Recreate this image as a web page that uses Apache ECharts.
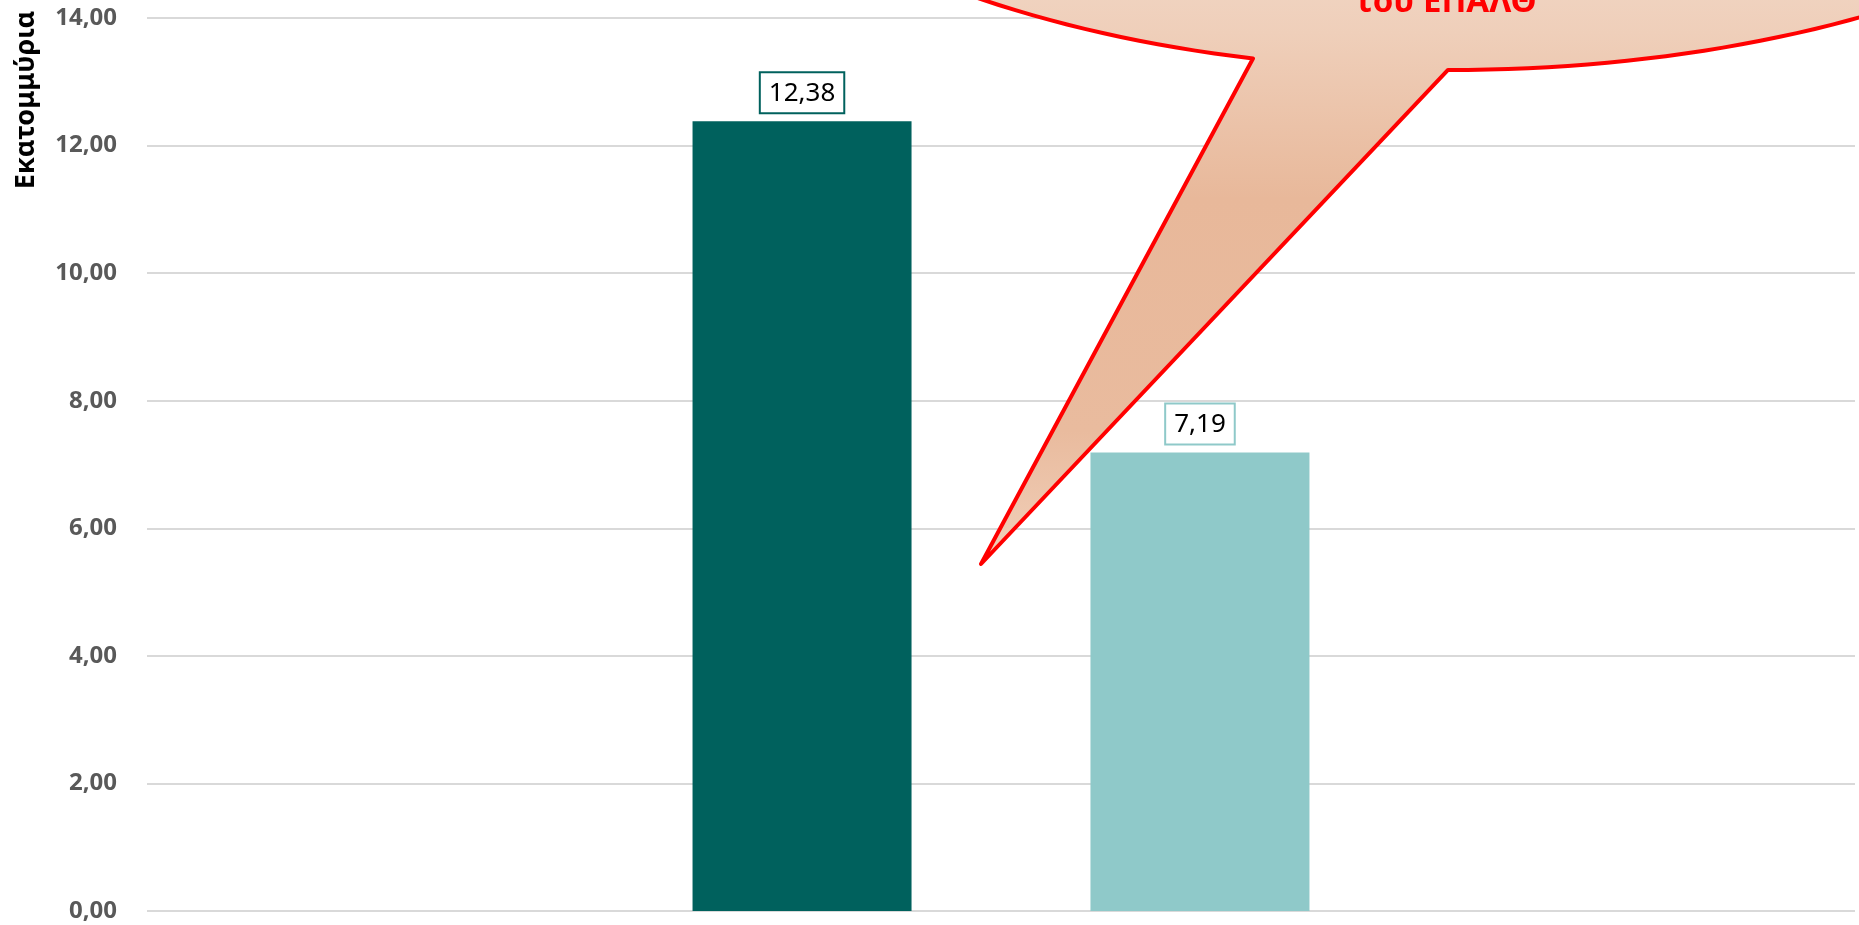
<!DOCTYPE html>
<html>
<head>
<meta charset="utf-8">
<script src="https://cdn.jsdelivr.net/npm/echarts@6/dist/echarts.min.js"></script>
<style>
  html, body { margin: 0; padding: 0; background: #ffffff; }
  #chart { width: 1859px; height: 925px; }
</style>
</head>
<body>
<div id="chart"></div>
<script>
// Chart data
const categories = [''];
const seriesNames = ['Σειρά1', 'Σειρά2'];
const seriesValues = [[12.38], [7.19]];
const seriesColors = ['#00615d', '#8fc9c9'];
const yTicks = { min: 0, max: 14, interval: 2 };
const axisTitle = 'Εκατομμύρια';
const calloutText = 'του ΕΠΑΛΘ';

const fmt = v => v.toFixed(2).replace('.', ',');

const chart = echarts.init(document.getElementById('chart'), null, { renderer: 'canvas' });

// Speech-bubble callout: ellipse body with a wedge pointing down between the bars
const ell = { cx: 1450, cy: -300, rx: 797, ry: 370 };
const tip = [981, 564];
const baseX = [1253, 1448];
const angleAt = x => {
  const u = (x - ell.cx) / ell.rx;
  return Math.atan2(Math.sqrt(1 - u * u), u); // lower half of the ellipse (screen y down)
};
const t1 = angleAt(baseX[0]);
const t2 = angleAt(baseX[1]) + Math.PI * 2;
const bubblePoints = [tip];
const steps = 240;
for (let i = 0; i <= steps; i++) {
  const t = t1 + (t2 - t1) * i / steps;
  bubblePoints.push([ell.cx + ell.rx * Math.cos(t), ell.cy + ell.ry * Math.sin(t)]);
}

const bubbleFill = new echarts.graphic.LinearGradient(0, -100, 0, 564, [
  { offset: 0, color: '#f3dccd' },
  { offset: 0.2, color: '#efcfba' },
  { offset: 0.45, color: '#e8b89a' },
  { offset: 0.8, color: '#e9bb9e' },
  { offset: 1, color: '#f1d0ba' }
], true);

const option = {
  backgroundColor: '#ffffff',
  animation: false,
  grid: { left: 147, right: 4, top: 18, bottom: 14, containLabel: false },
  xAxis: {
    type: 'category',
    data: categories,
    axisLine: { show: false },
    axisTick: { show: false },
    axisLabel: { show: false }
  },
  yAxis: {
    type: 'value',
    min: yTicks.min,
    max: yTicks.max,
    interval: yTicks.interval,
    axisLine: { show: false },
    axisTick: { show: false },
    axisLabel: {
      formatter: v => fmt(v),
      color: '#595959',
      fontFamily: 'Noto Sans',
      fontWeight: 'bold',
      fontSize: 24,
      margin: 30
    },
    splitLine: { lineStyle: { color: '#d9d9d9', width: 2 } }
  },
  series: seriesValues.map((vals, i) => ({
    name: seriesNames[i],
    type: 'bar',
    data: vals,
    barWidth: 219,
    barGap: '81.7%',
    itemStyle: { color: seriesColors[i] },
    label: {
      show: true,
      position: 'top',
      distance: 9,
      formatter: p => fmt(p.value),
      color: '#000000',
      fontFamily: 'Noto Sans',
      fontSize: 26,
      backgroundColor: '#ffffff',
      borderColor: seriesColors[i],
      borderWidth: 2,
      padding: [7, 8, 6, 8]
    }
  })),
  graphic: [
    {
      type: 'text',
      x: 26,
      y: 100,
      rotation: Math.PI / 2,
      style: {
        text: axisTitle,
        fill: '#000000',
        font: 'bold 27px "Noto Sans"',
        align: 'center',
        verticalAlign: 'middle'
      },
      z: 10
    },
    {
      type: 'polygon',
      shape: { points: bubblePoints },
      style: {
        fill: bubbleFill,
        stroke: '#ff0000',
        lineWidth: 4,
        lineJoin: 'round'
      },
      z: 20
    },
    {
      type: 'text',
      x: 1446,
      y: 3,
      style: {
        text: calloutText,
        fill: '#ff0000',
        font: 'bold 33px "Noto Sans"',
        align: 'center',
        verticalAlign: 'middle'
      },
      z: 21
    }
  ]
};

chart.setOption(option);
</script>
</body>
</html>
